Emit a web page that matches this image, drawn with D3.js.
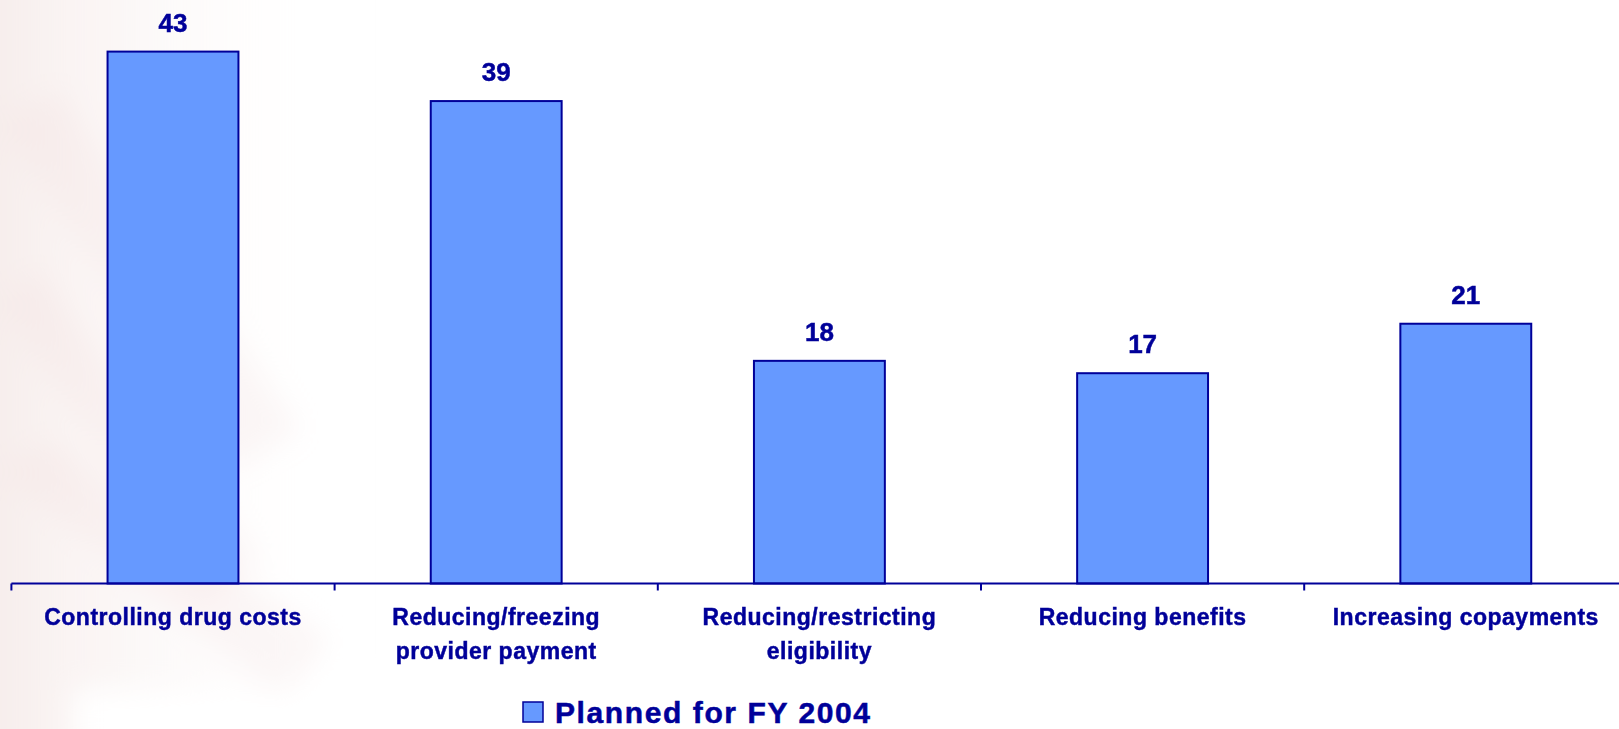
<!DOCTYPE html>
<html>
<head>
<meta charset="utf-8">
<script src="https://cdn.jsdelivr.net/npm/d3@7"></script>
<style>
  html, body { margin: 0; padding: 0; background: #ffffff; }
  svg { display: block; font-family: "Liberation Sans", Arial, sans-serif; }
</style>
</head>
<body>
<svg id="chart" width="1619" height="729"></svg>
<script>
// Medicaid cost-containment actions planned for FY 2004 (number of states)
const categories = [
  ["Controlling drug costs"],
  ["Reducing/freezing", "provider payment"],
  ["Reducing/restricting", "eligibility"],
  ["Reducing benefits"],
  ["Increasing copayments"]
];
const values = [43, 39, 18, 17, 21];
const seriesName = "Planned for FY 2004";

const navy = "#000099";
const barFill = "#6699ff";

const svg = d3.select("#chart");
const W = 1619, H = 729;

// soft pale backdrop on the left edge
const defs = svg.append("defs");
const fade = defs.append("linearGradient").attr("id", "fade")
  .attr("x1", 0).attr("x2", 1).attr("y1", 0).attr("y2", 0);
fade.append("stop").attr("offset", 0).attr("stop-color", "#f4e8e6").attr("stop-opacity", 0.9);
fade.append("stop").attr("offset", 0.45).attr("stop-color", "#faf4f3").attr("stop-opacity", 0.6);
fade.append("stop").attr("offset", 1).attr("stop-color", "#ffffff").attr("stop-opacity", 0);
defs.append("filter").attr("id", "soft")
  .attr("x", "-20%").attr("y", "-20%").attr("width", "140%").attr("height", "140%")
  .append("feGaussianBlur").attr("stdDeviation", 14);

const bg = svg.append("g").attr("filter", "url(#soft)");
bg.append("rect").attr("x", -40).attr("y", -40).attr("width", 400).attr("height", H + 80)
  .attr("fill", "url(#fade)");
[
  [[0, 120], [60, 90], [300, 430], [230, 470]],
  [[0, 300], [40, 270], [260, 560], [200, 600]],
  [[0, 470], [50, 440], [330, 640], [280, 700]]
].forEach(pts => {
  bg.append("polygon").attr("points", pts.map(p => p.join(",")).join(" "))
    .attr("fill", "#f0dcda").attr("opacity", 0.22);
});
bg.append("rect").attr("x", 73).attr("y", 690).attr("width", 400).attr("height", 60)
  .attr("fill", "#ffffff");

// scales
const baseY = 583.5;
const step = 323.2;
const x0 = 11.4;
const x = d3.scaleBand()
  .domain(d3.range(values.length))
  .range([x0, x0 + step * values.length])
  .paddingInner(0.595)
  .paddingOuter(0.2975);
const y = d3.scaleLinear().domain([0, 45]).range([baseY, baseY - 45 * 12.37]);

// bars
svg.append("g").selectAll("rect")
  .data(values)
  .join("rect")
  .attr("x", (d, i) => x(i))
  .attr("y", d => y(d))
  .attr("width", x.bandwidth())
  .attr("height", d => y(0) - y(d))
  .attr("fill", barFill)
  .attr("stroke", navy)
  .attr("stroke-width", 2);

// value labels
svg.append("g").selectAll("text")
  .data(values)
  .join("text")
  .attr("x", (d, i) => x(i) + x.bandwidth() / 2)
  .attr("y", d => y(d) - 20)
  .attr("text-anchor", "middle")
  .attr("font-size", 26)
  .attr("font-weight", "bold")
  .attr("fill", navy)
  .attr("stroke", navy)
  .attr("stroke-width", 0.5)
  .text(d => d);

// category axis
const axis = svg.append("g");
axis.append("line")
  .attr("x1", x0).attr("x2", W)
  .attr("y1", baseY).attr("y2", baseY)
  .attr("stroke", navy).attr("stroke-width", 2);
axis.selectAll("line.tick")
  .data(d3.range(values.length))
  .join("line")
  .attr("class", "tick")
  .attr("x1", i => x(i) - x.step() * x.paddingInner() / 2)
  .attr("x2", i => x(i) - x.step() * x.paddingInner() / 2)
  .attr("y1", baseY).attr("y2", baseY + 7)
  .attr("stroke", navy).attr("stroke-width", 2);

const labels = axis.selectAll("text.cat")
  .data(categories)
  .join("text")
  .attr("class", "cat")
  .attr("x", (d, i) => x(i) + x.bandwidth() / 2)
  .attr("y", 625)
  .attr("text-anchor", "middle")
  .attr("font-size", 23)
  .attr("font-weight", "bold")
  .attr("letter-spacing", 0.5)
  .attr("fill", navy)
  .attr("stroke", navy)
  .attr("stroke-width", 0.45);
labels.selectAll("tspan")
  .data((d, i) => d.map(t => ({ t, i })))
  .join("tspan")
  .attr("x", d => x(d.i) + x.bandwidth() / 2)
  .attr("dy", (d, j) => j === 0 ? 0 : 34)
  .text(d => d.t);

// legend
const legend = svg.append("g").attr("transform", "translate(523,702)");
legend.append("rect")
  .attr("width", 20).attr("height", 20)
  .attr("fill", barFill).attr("stroke", navy).attr("stroke-width", 1.5);
legend.append("text")
  .attr("x", 32).attr("y", 20.5)
  .attr("font-size", 30)
  .attr("font-weight", "bold")
  .attr("letter-spacing", 1.6)
  .attr("fill", navy)
  .attr("stroke", navy)
  .attr("stroke-width", 0.5)
  .text(seriesName);
</script>
</body>
</html>
